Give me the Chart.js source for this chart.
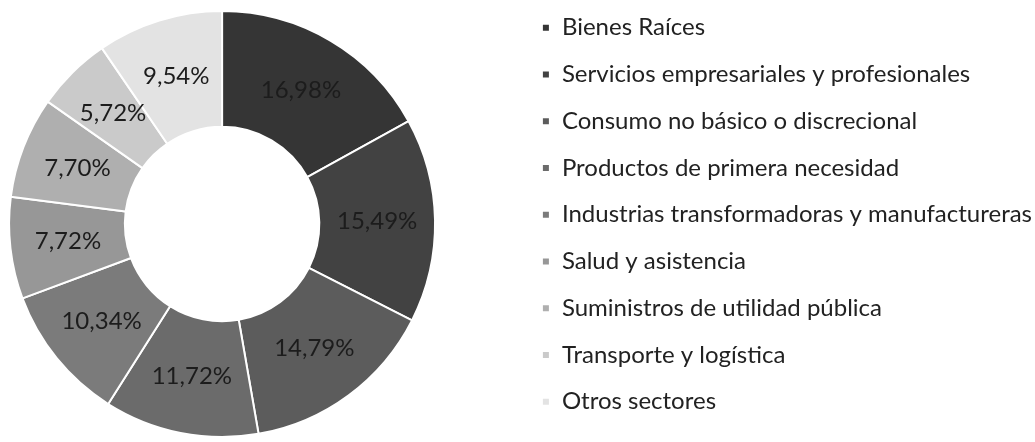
<!DOCTYPE html>
<html lang="es">
<head>
<meta charset="UTF-8">
<title>Distribución por sectores</title>
<script src="https://cdn.jsdelivr.net/npm/chart.js"></script>
<style>
  html, body { margin: 0; padding: 0; background: #fff; overflow: hidden; width: 1035px; height: 442px; }
  /* canvas is a bit larger than the page so the ring sits left of the legend */
  #wrap { position: absolute; left: -75px; top: -7px; width: 1117px; height: 462px; }
</style>
</head>
<body>
<div id="wrap"><canvas id="sectorChart"></canvas></div>
<script>
const sectors = [
  'Bienes Raíces',
  'Servicios empresariales y profesionales',
  'Consumo no básico o discrecional',
  'Productos de primera necesidad',
  'Industrias transformadoras y manufactureras',
  'Salud y asistencia',
  'Suministros de utilidad pública',
  'Transporte y logística',
  'Otros sectores'
];
const weights = [16.98, 15.49, 14.79, 11.72, 10.34, 7.72, 7.70, 5.72, 9.54];
const shades = ['#353535', '#424242', '#5c5c5c', '#6b6b6b', '#7b7b7b', '#979797', '#afafaf', '#cacaca', '#e3e3e3'];

// percentage text in the middle of each ring segment
const sliceLabels = {
  id: 'sliceLabels',
  afterDatasetsDraw(chart) {
    const ctx = chart.ctx;
    const meta = chart.getDatasetMeta(0);
    ctx.save();
    ctx.font = '24px Lato';
    ctx.fillStyle = '#1c1c1c';
    ctx.textAlign = 'center';
    ctx.textBaseline = 'middle';
    meta.data.forEach((arc, i) => {
      const p = arc.tooltipPosition();
      ctx.fillText(weights[i].toFixed(2).replace('.', ',') + '%', p.x, p.y);
    });
    ctx.restore();
  }
};

new Chart(document.getElementById('sectorChart'), {
  type: 'doughnut',
  data: {
    labels: sectors,
    datasets: [{
      data: weights,
      backgroundColor: shades,
      borderColor: '#ffffff',
      borderWidth: 2,
      radius: 213
    }]
  },
  options: {
    responsive: true,
    maintainAspectRatio: false,
    animation: false,
    cutout: 105,
    layout: { padding: 0 },
    plugins: {
      tooltip: { enabled: false },
      legend: {
        position: 'right',
        align: 'start',
        labels: {
          boxWidth: 8,
          boxHeight: 8,
          padding: 22.75,
          color: '#222',
          font: { family: 'Lato', size: 24 }
        }
      }
    }
  },
  plugins: [sliceLabels]
});
</script>
</body>
</html>
